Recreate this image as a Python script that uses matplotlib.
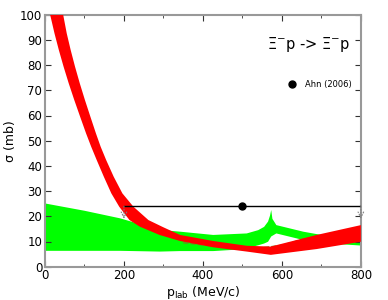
import matplotlib
matplotlib.use("Agg")
import matplotlib.pyplot as plt
import numpy as np

# red band (upper / lower edges)
red_up_x = [46, 55, 65, 76, 88, 101, 115, 129, 141, 155, 174, 196, 224, 262, 299, 342,
            426, 511, 572, 688, 800]
red_up_y = [100, 92.6, 86.0, 79.4, 72.8, 66.2, 59.5, 52.9, 47.6, 42.3, 35.7, 29.1, 23.8,
            18.5, 15.7, 12.6, 10.2, 8.3, 8.0, 12.6, 16.5]
red_lo_x = [13, 24, 35, 47, 60, 74, 89, 104, 117, 131, 149, 168, 188, 214, 240, 290, 342,
            426, 511, 572, 688, 800]
red_lo_y = [100, 92.6, 86.0, 79.4, 72.8, 66.2, 59.5, 52.9, 47.6, 42.3, 35.7, 29.1, 23.8,
            18.5, 15.9, 12.6, 10.2, 7.7, 6.0, 4.7, 7.0, 9.9]

# green band
grn_up_x = [0, 100, 190, 291, 342, 426, 511, 540, 555, 565, 570, 573, 576, 586, 654, 700, 800]
grn_up_y = [25.1, 22.2, 19.2, 14.6, 13.9, 12.6, 13.2, 14.5, 15.8, 17.9, 20.3, 22.5, 19.0,
            16.5, 13.9, 12.6, 11.3]
grn_lo_x = [0, 190, 291, 342, 426, 500, 540, 555, 565, 573, 586, 654, 700, 800]
grn_lo_y = [6.3, 6.3, 6.0, 6.2, 6.2, 6.9, 8.5, 9.2, 9.9, 12.0, 13.2, 10.6, 9.4, 8.4]

# dashed curve
dash_x = [350, 450, 550, 600, 660, 800]
dash_y = [9.5, 7.8, 7.5, 8.5, 11.2, 11.0]

# Ahn (2006) upper limit
ahn_x = 500
ahn_y = 24
ahn_lo = 200
ahn_hi = 800

fig = plt.figure(figsize=(3.88, 3.0), dpi=100)
ax = fig.add_axes([0.116, 0.111, 0.814, 0.840])

ax.fill(np.concatenate([grn_up_x, grn_lo_x[::-1]]),
        np.concatenate([grn_up_y, grn_lo_y[::-1]]),
        color="#00ff00", lw=0, zorder=1)
ax.plot(dash_x, dash_y, color="#6b8e23", ls="--", lw=1, zorder=2)
ax.fill(np.concatenate([red_up_x, red_lo_x[::-1]]),
        np.concatenate([red_up_y, red_lo_y[::-1]]),
        color="#ff0000", lw=0, zorder=3)

ax.plot([ahn_lo, ahn_hi], [ahn_y, ahn_y], color="black", lw=1, zorder=4)
ax.plot(ahn_x, ahn_y, "o", color="black", ms=5, zorder=5)
for xx in (ahn_lo, ahn_hi):
    ax.annotate("", xy=(xx, ahn_y - 5), xytext=(xx, ahn_y),
                arrowprops=dict(arrowstyle="->", color="gray", lw=0.8,
                                linestyle=":", shrinkA=0, shrinkB=0),
                zorder=4)

# legend
ax.plot(625, 72.5, "o", color="black", ms=5, clip_on=False)
ax.text(658, 72.5, "Ahn (2006)", fontsize=6, va="center")
ax.text(775, 88, "Ξ$^{-}$p -> Ξ$^{-}$p", fontsize=10.5, ha="right", va="center")

ax.set_xlim(0, 800)
ax.set_ylim(0, 100)
ax.set_xticks([0, 200, 400, 600, 800])
ax.set_xticks([100, 300, 500, 700], minor=True)
ax.set_yticks(range(0, 101, 10))
ax.tick_params(which="both", direction="in", top=True, right=True,
               labelsize=8.5, color="#333333", pad=2)
ax.tick_params(which="major", length=4)
ax.tick_params(which="minor", length=2.5)
for s in ax.spines.values():
    s.set_color("#999999")
    s.set_linewidth(1.5)

ax.set_xlabel("p$_{\\rm lab}$ (MeV/c)", fontsize=9, labelpad=1)
ax.set_ylabel("σ (mb)", fontsize=9, labelpad=2)

fig.savefig("out.png", dpi=100)
